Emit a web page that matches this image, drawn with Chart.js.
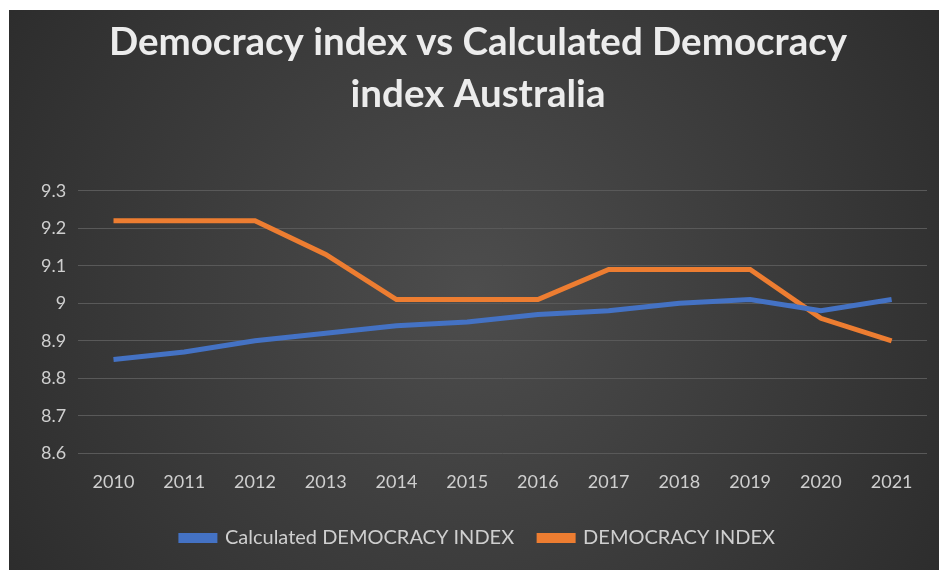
<!DOCTYPE html>
<html>
<head>
<meta charset="utf-8">
<script src="https://cdn.jsdelivr.net/npm/chart.js@4"></script>
<style>
  body { margin: 0; background: #ffffff; }
  #wrap { position: absolute; left: 9px; top: 10px; width: 930px; height: 560px; }
</style>
</head>
<body>
<div id="wrap"><canvas id="myChart"></canvas></div>
<script>
var years = ['2010', '2011', '2012', '2013', '2014', '2015', '2016', '2017', '2018', '2019', '2020', '2021'];
var calculatedIndex = [8.85, 8.87, 8.90, 8.92, 8.94, 8.95, 8.97, 8.98, 9.00, 9.01, 8.98, 9.01];
var democracyIndex = [9.22, 9.22, 9.22, 9.13, 9.01, 9.01, 9.01, 9.09, 9.09, 9.09, 8.96, 8.90];
var yMin = 8.6;
var yMax = 9.3;

// dark radial background like the office chart style
const bgPlugin = {
    id: 'bg',
    beforeDraw: function(chart) {
        var c = chart.ctx;
        var w = chart.width, h = chart.height;
        var g = c.createRadialGradient(w * 0.5, h * 0.5, 0, w * 0.5, h * 0.5, w * 0.6);
        g.addColorStop(0, '#4d4d4d');
        g.addColorStop(1, '#2c2c2c');
        c.save();
        c.fillStyle = g;
        c.fillRect(0, 0, w, h);
        c.restore();
    }
};

var ctx = document.getElementById('myChart').getContext('2d');
var myChart = new Chart(ctx, {
    type: 'line',
    data: {
        labels: years,
        datasets: [{
            label: 'Calculated DEMOCRACY INDEX',
            data: calculatedIndex,
            borderColor: '#4472c4',
            backgroundColor: '#4472c4',
            borderWidth: 5,
            pointRadius: 0,
            tension: 0
        }, {
            label: 'DEMOCRACY INDEX',
            data: democracyIndex,
            borderColor: '#ed7d31',
            backgroundColor: '#ed7d31',
            borderWidth: 5,
            pointRadius: 0,
            tension: 0
        }]
    },
    options: {
        responsive: true,
        maintainAspectRatio: false,
        animation: false,
        layout: { padding: { left: 20, right: 12, top: 2, bottom: 12 } },
        plugins: {
            title: {
                display: true,
                text: ['Democracy index vs Calculated Democracy', 'index Australia'],
                color: '#ececec',
                font: { family: 'Lato', size: 38.5, weight: 'bold', lineHeight: 1.36 },
                padding: { top: 4, bottom: 70 }
            },
            legend: {
                position: 'bottom',
                labels: {
                    color: '#cfcfcf',
                    font: { family: 'Lato', size: 20 },
                    boxWidth: 34,
                    boxHeight: 5,
                    padding: 25,
                    useBorderRadius: false
                }
            },
            tooltip: { enabled: false }
        },
        scales: {
            x: {
                offset: true,
                grid: { display: false },
                border: { display: false },
                ticks: { color: '#cfcfcf', font: { family: 'Lato', size: 18 }, padding: 10 }
            },
            y: {
                min: yMin,
                max: yMax,
                grid: { color: '#595959', lineWidth: 1, drawTicks: false },
                border: { display: false },
                ticks: {
                    stepSize: 0.1,
                    color: '#cfcfcf',
                    font: { family: 'Lato', size: 18 },
                    padding: 12,
                    callback: function(v) { return String(Math.round(v * 10) / 10); }
                }
            }
        }
    },
    plugins: [bgPlugin]
});
</script>
</body>
</html>
